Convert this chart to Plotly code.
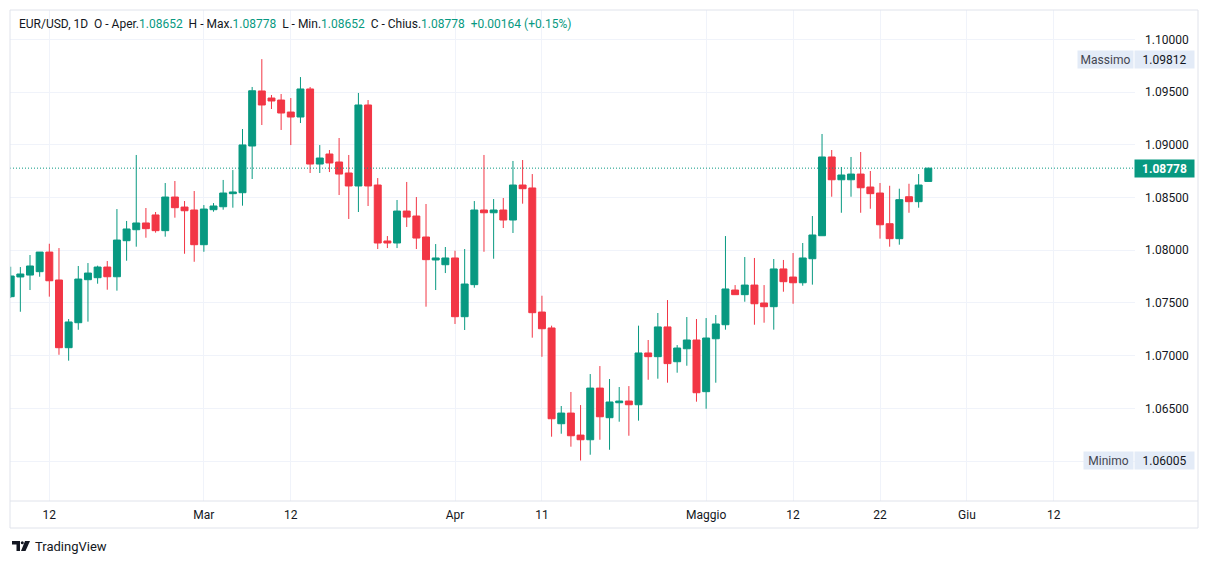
import pandas as pd
import plotly.graph_objects as go

# daily EUR/USD bars (feed has Sunday bars, no Saturday)
dates = [
    "2024-02-07", "2024-02-08", "2024-02-09", "2024-02-11", "2024-02-12", "2024-02-13",
    "2024-02-14", "2024-02-15", "2024-02-16", "2024-02-18", "2024-02-19", "2024-02-20",
    "2024-02-21", "2024-02-22", "2024-02-23", "2024-02-25", "2024-02-26", "2024-02-27",
    "2024-02-28", "2024-02-29", "2024-03-01", "2024-03-03", "2024-03-04", "2024-03-05",
    "2024-03-06", "2024-03-07", "2024-03-08", "2024-03-10", "2024-03-11", "2024-03-12",
    "2024-03-13", "2024-03-14", "2024-03-15", "2024-03-17", "2024-03-18", "2024-03-19",
    "2024-03-20", "2024-03-21", "2024-03-22", "2024-03-24", "2024-03-25", "2024-03-26",
    "2024-03-27", "2024-03-28", "2024-03-29", "2024-03-31", "2024-04-01", "2024-04-02",
    "2024-04-03", "2024-04-04", "2024-04-05", "2024-04-07", "2024-04-08", "2024-04-09",
    "2024-04-10", "2024-04-11", "2024-04-12", "2024-04-14", "2024-04-15", "2024-04-16",
    "2024-04-17", "2024-04-18", "2024-04-19", "2024-04-21", "2024-04-22", "2024-04-23",
    "2024-04-24", "2024-04-25", "2024-04-26", "2024-04-28", "2024-04-29", "2024-04-30",
    "2024-05-01", "2024-05-02", "2024-05-03", "2024-05-05", "2024-05-06", "2024-05-07",
    "2024-05-08", "2024-05-09", "2024-05-10", "2024-05-12", "2024-05-13", "2024-05-14",
    "2024-05-15", "2024-05-16", "2024-05-17", "2024-05-19", "2024-05-20", "2024-05-21",
    "2024-05-22", "2024-05-23", "2024-05-24", "2024-05-26", "2024-05-27", "2024-05-28",
]

opens = [
    1.07559, 1.07746, 1.07764, 1.07796, 1.07982, 1.07717, 1.07075, 1.07312, 1.07720, 1.07739,
    1.07840, 1.07748, 1.08090, 1.08194, 1.08258, 1.08334, 1.08185, 1.08504, 1.08409, 1.08381,
    1.08052, 1.08384, 1.08412, 1.08536, 1.08545, 1.08988, 1.09510, 1.09443, 1.09424, 1.09310,
    1.09263, 1.09529, 1.08817, 1.08912, 1.08836, 1.08732, 1.08609, 1.09377, 1.08618, 1.08087,
    1.08068, 1.08371, 1.08324, 1.08125, 1.07907, 1.07862, 1.07926, 1.07369, 1.07673, 1.08381,
    1.08355, 1.08381, 1.08286, 1.08618, 1.08590, 1.07413, 1.07262, 1.06354, 1.06455, 1.06246,
    1.06202, 1.06692, 1.06411, 1.06553, 1.06569, 1.06534, 1.07025, 1.06990, 1.07272, 1.06942,
    1.07065, 1.07148, 1.06658, 1.07160, 1.07293, 1.07622, 1.07578, 1.07669, 1.07499, 1.07464,
    1.07822, 1.07745, 1.07691, 1.07919, 1.08137, 1.08884, 1.08668, 1.08668, 1.08722, 1.08599,
    1.08542, 1.08251, 1.08109, 1.08507, 1.08460, 1.08652,
]
highs = [
    1.07843, 1.07840, 1.07954, 1.07982, 1.08061, 1.08020, 1.07347, 1.07850, 1.07878, 1.07853,
    1.07897, 1.08390, 1.08277, 1.08903, 1.08400, 1.08362, 1.08637, 1.08656, 1.08466, 1.08561,
    1.08428, 1.08447, 1.08666, 1.08760, 1.09149, 1.09548, 1.09812, 1.09472, 1.09481, 1.09443,
    1.09642, 1.09548, 1.08997, 1.08950, 1.09064, 1.08903, 1.09491, 1.09424, 1.08684, 1.08134,
    1.08476, 1.08647, 1.08504, 1.08438, 1.08058, 1.08030, 1.07995, 1.08011, 1.08466, 1.08903,
    1.08485, 1.08495, 1.08846, 1.08855, 1.08722, 1.07568, 1.07284, 1.06522, 1.06655, 1.06531,
    1.06825, 1.06901, 1.06778, 1.06702, 1.06711, 1.07284, 1.07148, 1.07404, 1.07527, 1.07100,
    1.07366, 1.07347, 1.07356, 1.07385, 1.08134, 1.07669, 1.07935, 1.07926, 1.07669, 1.07916,
    1.07907, 1.07973, 1.08068, 1.08324, 1.09102, 1.08950, 1.08789, 1.08884, 1.08931, 1.08751,
    1.08637, 1.08611, 1.08583, 1.08630, 1.08722, 1.08778,
]
lows = [
    1.07546, 1.07416, 1.07622, 1.07748, 1.07559, 1.07008, 1.06952, 1.07245, 1.07322, 1.07682,
    1.07625, 1.07616, 1.07900, 1.08033, 1.08118, 1.08166, 1.08128, 1.08308, 1.07966, 1.07890,
    1.07985, 1.08365, 1.08384, 1.08403, 1.08422, 1.08675, 1.09187, 1.09339, 1.09140, 1.08997,
    1.09206, 1.08732, 1.08732, 1.08741, 1.08523, 1.08296, 1.08362, 1.08419, 1.08011, 1.08020,
    1.08020, 1.08220, 1.08011, 1.07464, 1.07622, 1.07783, 1.07300, 1.07243, 1.07644, 1.07985,
    1.07919, 1.08210, 1.08163, 1.08441, 1.07170, 1.06989, 1.06231, 1.06259, 1.06136, 1.06005,
    1.06060, 1.06202, 1.06107, 1.06373, 1.06240, 1.06383, 1.06771, 1.06781, 1.06743, 1.06838,
    1.06904, 1.06563, 1.06496, 1.06743, 1.07246, 1.07578, 1.07511, 1.07293, 1.07312, 1.07246,
    1.07606, 1.07492, 1.07663, 1.07673, 1.08137, 1.08507, 1.08355, 1.08507, 1.08355, 1.08393,
    1.08109, 1.08033, 1.08052, 1.08355, 1.08403, 1.08652,
]
closes = [
    1.07755, 1.07774, 1.07850, 1.07982, 1.07710, 1.07075, 1.07319, 1.07726, 1.07783, 1.07840,
    1.07748, 1.08096, 1.08201, 1.08258, 1.08204, 1.08185, 1.08504, 1.08403, 1.08374, 1.08052,
    1.08390, 1.08419, 1.08542, 1.08552, 1.08998, 1.09512, 1.09377, 1.09415, 1.09301, 1.09263,
    1.09529, 1.08817, 1.08874, 1.08827, 1.08722, 1.08609, 1.09377, 1.08609, 1.08068, 1.08068,
    1.08371, 1.08314, 1.08115, 1.07910, 1.07926, 1.07926, 1.07369, 1.07679, 1.08381, 1.08355,
    1.08381, 1.08286, 1.08618, 1.08583, 1.07407, 1.07255, 1.06401, 1.06455, 1.06240, 1.06202,
    1.06692, 1.06420, 1.06560, 1.06569, 1.06534, 1.07025, 1.06990, 1.07272, 1.06924, 1.07072,
    1.07148, 1.06648, 1.07167, 1.07300, 1.07632, 1.07578, 1.07669, 1.07492, 1.07464, 1.07822,
    1.07701, 1.07691, 1.07926, 1.08144, 1.08884, 1.08668, 1.08713, 1.08722, 1.08592, 1.08536,
    1.08241, 1.08109, 1.08479, 1.08460, 1.08618, 1.08778,
]

tick_dates = ["2024-02-12", "2024-03-01", "2024-03-12", "2024-04-01", "2024-04-11",
              "2024-05-01", "2024-05-12", "2024-05-22", "2024-06-02", "2024-06-12"]
tick_text = ["12", "Mar", "12", "Apr", "11", "Maggio", "12", "22", "Giu", "12"]

last_price = 1.08778
max_price = 1.09812
min_price = 1.06005

UP = "#089981"
DOWN = "#F23645"
TXT = "#131722"
FONT = "Roboto, 'Liberation Sans', sans-serif"

W, H = 1209, 564
L, R, T, B = 10, 1135, 10, 501   # plot area in pixels


def px(x):
    return (x - L) / (R - L)


def py(y):
    return (B - y) / (B - T)


half_day = pd.Timedelta(hours=12)
x = pd.to_datetime(dates) + half_day

fig = go.Figure(go.Candlestick(
    x=x, open=opens, high=highs, low=lows, close=closes,
    increasing=dict(line=dict(color=UP, width=1), fillcolor=UP),
    decreasing=dict(line=dict(color=DOWN, width=1), fillcolor=DOWN),
    whiskerwidth=0, hoverinfo="none",
))

shapes = [
    # last price dotted line
    dict(type="line", xref="paper", yref="y", x0=0, x1=1, y0=last_price, y1=last_price,
         line=dict(color=UP, width=1, dash="1px,2px")),
    # frame
    dict(type="rect", xref="paper", yref="paper", x0=px(10), x1=px(1198), y0=py(528), y1=py(10),
         line=dict(color="#e0e3eb", width=1)),
    dict(type="line", xref="paper", yref="paper", x0=px(10), x1=px(1198), y0=py(501), y1=py(501),
         line=dict(color="#e0e3eb", width=1)),
]

# TradingView logo
logo = [
    "M {} {} L {} {} L {} {} L {} {} L {} {} L {} {} Z".format(
        px(12), py(541), px(20), py(541), px(20), py(551), px(16.5), py(551),
        px(16.5), py(544.5), px(12), py(544.5)),
    "M {} {} L {} {} L {} {} L {} {} Z".format(
        px(25), py(541), px(30), py(541), px(25.5), py(551), px(21), py(551)),
]
for p in logo:
    shapes.append(dict(type="path", xref="paper", yref="paper", path=p,
                       fillcolor=TXT, line=dict(width=0)))
shapes.append(dict(type="circle", xref="paper", yref="paper",
                   x0=px(20.8), x1=px(23.8), y0=py(544.3), y1=py(541.3),
                   fillcolor=TXT, line=dict(width=0)))

G = "<span style='color:%s'>" % UP
sp = "\u00a0\u00a0"
header = ("EUR/USD, 1D" + sp + "O - Aper." + G + "1.08652</span>" + sp +
          "H - Max." + G + "1.08778</span>" + sp +
          "L - Min." + G + "1.08652</span>" + sp +
          "C - Chius." + G + "1.08778</span>" + sp +
          G + "+0.00164 (+0.15%)</span>")

BOX = "#e3ebf7"
annotations = [
    dict(xref="paper", yref="paper", x=px(17), y=py(24), xanchor="left", yanchor="middle",
         text=header, showarrow=False, font=dict(size=12, color=TXT, family=FONT)),
    # current price label
    dict(xref="paper", yref="y", x=px(1164.5), y=last_price, xanchor="center", yanchor="middle",
         text="<b>%.5f</b>" % last_price, showarrow=False, bgcolor=UP, width=59, height=17,
         borderpad=0, font=dict(size=12, color="white", family=FONT)),
    # high / low labels
    dict(xref="paper", yref="y", x=px(1105.5), y=max_price, xanchor="center", yanchor="middle",
         text="Massimo", showarrow=False, bgcolor=BOX, width=55, height=17, borderpad=0,
         font=dict(size=12, color="#434651", family=FONT)),
    dict(xref="paper", yref="y", x=px(1164.5), y=max_price, xanchor="center", yanchor="middle",
         text="%.5f" % max_price, showarrow=False, bgcolor=BOX, width=59, height=17, borderpad=0,
         font=dict(size=12, color=TXT, family=FONT)),
    dict(xref="paper", yref="y", x=px(1108.5), y=min_price, xanchor="center", yanchor="middle",
         text="Minimo", showarrow=False, bgcolor=BOX, width=49, height=17, borderpad=0,
         font=dict(size=12, color="#434651", family=FONT)),
    dict(xref="paper", yref="y", x=px(1164.5), y=min_price, xanchor="center", yanchor="middle",
         text="%.5f" % min_price, showarrow=False, bgcolor=BOX, width=59, height=17, borderpad=0,
         font=dict(size=12, color=TXT, family=FONT)),
    dict(xref="paper", yref="paper", x=px(33), y=py(546), xanchor="left", yanchor="middle",
         text="TradingView", showarrow=False, font=dict(size=13, color=TXT, family=FONT)),
]

x0 = pd.Timestamp("2024-02-07 12:00") - pd.Timedelta(hours=1.7)
x1 = pd.Timestamp("2024-06-21 12:00") + pd.Timedelta(hours=9.6)

fig.update_layout(
    width=W, height=H,
    margin=dict(l=L, r=W - R, t=T, b=H - B),
    paper_bgcolor="white", plot_bgcolor="white",
    showlegend=False, boxgap=0.28, boxgroupgap=0,
    font=dict(family=FONT, size=12, color=TXT),
    shapes=shapes, annotations=annotations,
    xaxis=dict(
        type="date", range=[x0, x1], rangeslider=dict(visible=False),
        rangebreaks=[dict(bounds=["sat", "sun"])],
        tickvals=[pd.Timestamp(d) + half_day for d in tick_dates], ticktext=tick_text,
        showgrid=True, gridcolor="#f0f3fa", gridwidth=1, zeroline=False, showline=False,
        ticks="", ticklabelstandoff=5, tickfont=dict(size=12, color=TXT),
    ),
    yaxis=dict(
        side="right", range=[1.05621, 1.10278], dtick=0.005, tick0=1.0,
        tickformat=".5f", showgrid=True, gridcolor="#f0f3fa", gridwidth=1,
        zeroline=False, showline=False, ticks="", ticklabelstandoff=9,
        tickfont=dict(size=12, color=TXT),
    ),
)

fig.write_html("out.html", config={"displayModeBar": False},
               post_script="document.body.style.margin='0';document.body.style.overflow='hidden';")
